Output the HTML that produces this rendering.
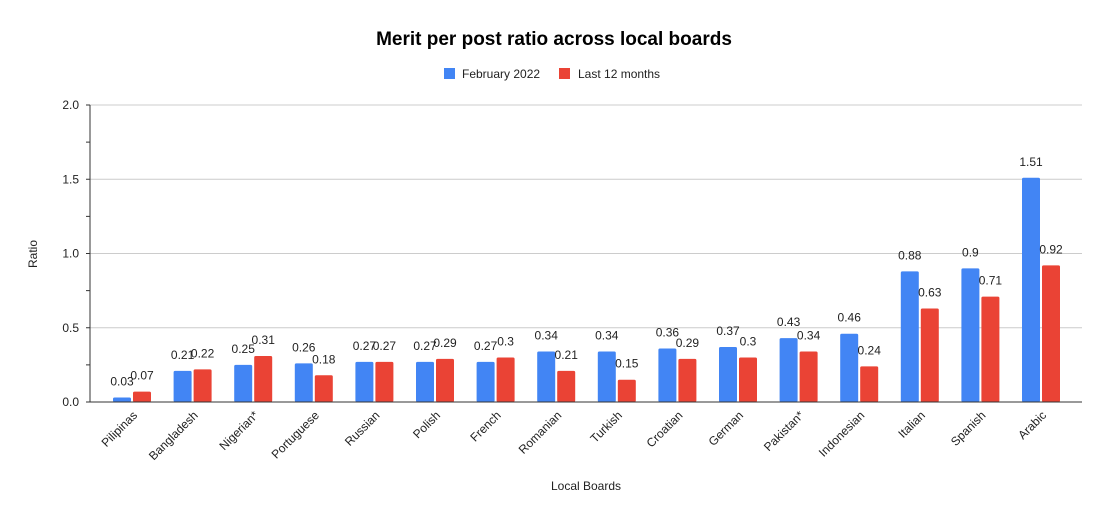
<!DOCTYPE html>
<html><head><meta charset="utf-8"><style>
body{margin:0;background:#fff;font-family:"Liberation Sans",Arial,sans-serif}
svg text{font-family:"Liberation Sans",Arial,sans-serif}
</style></head><body>
<svg id="c" width="1108" height="519" xmlns="http://www.w3.org/2000/svg">
<rect width="1108" height="519" fill="#fff"/>
<text x="554" y="45" text-anchor="middle" font-size="19" font-weight="bold" fill="#000">Merit per post ratio across local boards</text>
<g>
<rect x="444" y="68" width="11" height="11" fill="#4285f4"/>
<text x="462" y="78" font-size="12" fill="#222">February 2022</text>
<rect x="559" y="68" width="11" height="11" fill="#ea4335"/>
<text x="578" y="78" font-size="12" fill="#222">Last 12 months</text>
</g>
<text x="0" y="0" transform="translate(37,254) rotate(-90)" text-anchor="middle" font-size="12" fill="#222">Ratio</text>
<text x="586" y="490" text-anchor="middle" font-size="12" fill="#222">Local Boards</text>
<g id="grid"></g><g id="bars"></g><g id="labels"></g>
</svg>
<script>
const categories=["Pilipinas","Bangladesh","Nigerian*","Portuguese","Russian","Polish","French","Romanian","Turkish","Croatian","German","Pakistan*","Indonesian","Italian","Spanish","Arabic"];
const febValues=[0.03,0.21,0.25,0.26,0.27,0.27,0.27,0.34,0.34,0.36,0.37,0.43,0.46,0.88,0.9,1.51];
const yearValues=[0.07,0.22,0.31,0.18,0.27,0.29,0.3,0.21,0.15,0.29,0.3,0.34,0.24,0.63,0.71,0.92];
const yTicks=[0,0.5,1.0,1.5,2.0];
const ns="http://www.w3.org/2000/svg";
const y0=402,y1=105,yMax=2;
function yS(v){return y0-(v/yMax)*(y0-y1);}
function xC(i){return 132+i*(1041-132)/(categories.length-1);}
function mk(t,a,p){const e=document.createElementNS(ns,t);for(const k in a)e.setAttribute(k,a[k]);p.appendChild(e);return e;}
const grid=document.getElementById('grid'),bars=document.getElementById('bars'),labels=document.getElementById('labels');
yTicks.forEach(v=>{
 if(v>0){const g=mk('line',{x1:90,x2:1082,y1:yS(v),y2:yS(v),stroke:'#ccc','stroke-width':1},grid);
 
 }
 const t=mk('text',{x:79,y:yS(v)+4,'text-anchor':'end','font-size':12,fill:'#222'},grid);t.textContent=v.toFixed(1);
 
 
});
for(let v=0;v<=yMax+1e-9;v+=0.25){const tk=mk('line',{x1:86,x2:90,y1:yS(v),y2:yS(v),stroke:'#333'},grid);
 
 }
const ax=mk('line',{x1:90,x2:90,y1:y1,y2:y0,stroke:'#333'},grid);


categories.forEach((c,i)=>{
 const cx=xC(i);
 [[febValues[i],'#4285f4',cx-19,'bar-feb-'],[yearValues[i],'#ea4335',cx+1,'bar-12m-']].forEach(([v,col,x,n])=>{
  const r=mk('rect',{x:x,y:yS(v),width:18,height:y0-yS(v),fill:col,rx:1.5},bars);
  
  
  const t=mk('text',{x:x+9,y:yS(v)-12,'text-anchor':'middle','font-size':12,fill:'#222'},labels);
  t.textContent=String(v);
  
  
 });
 const xl=mk('text',{x:0,y:0,transform:`translate(${cx+6},${y0+14}) rotate(-45)`,'text-anchor':'end','font-size':12,fill:'#222'},labels);
 xl.textContent=c;
 
 
});
const xa=mk('line',{x1:90,x2:1082,y1:y0,y2:y0,stroke:'#333'},labels);


</script>
</body></html>
